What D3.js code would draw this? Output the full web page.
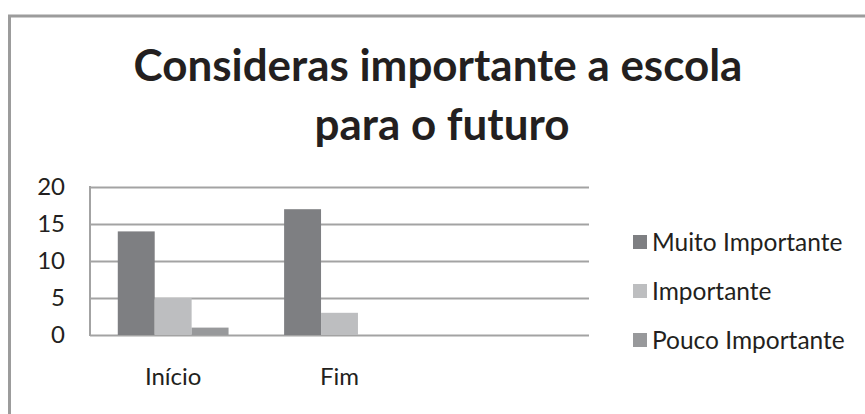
<!DOCTYPE html>
<html>
<head>
<meta charset="utf-8">
<script src="https://cdn.jsdelivr.net/npm/d3@7"></script>
<style>
  body { margin: 0; background: #fff; }
  svg { display: block; font-family: Lato, "Open Sans", sans-serif; }
</style>
</head>
<body>
<div id="chart"></div>
<script>
// Chart data
const titleLines = ["Consideras importante a escola", "para o futuro"];
const categories = ["Início", "Fim", ""];   // third slot is empty in the original
const seriesNames = ["Muito Importante", "Importante", "Pouco Importante"];
const muitoImportante = [14, 17];
const importante = [5, 3];
const poucoImportante = [1, 0];
const yTicks = [0, 5, 10, 15, 20];

const seriesValues = [muitoImportante, importante, poucoImportante];
const colors = ["#7e7f82", "#bdbec0", "#98999b"];

const width = 865, height = 414;
const plot = {left: 90, right: 589, top: 187, bottom: 335};
const labelSize = 24;

const svg = d3.select("#chart").append("svg")
    .attr("width", width)
    .attr("height", height);

svg.append("rect").attr("width", width).attr("height", height).attr("fill", "#fff");

// outer frame (only top and left edges are visible in the picture)
svg.append("path")
    .attr("d", "M9.5," + height + "V16H" + width)
    .attr("fill", "none")
    .attr("stroke", "#9c9c9c")
    .attr("stroke-width", 3);

// title, sized to the width it has in the reference
const title = svg.append("g").attr("fill", "#231f20").attr("font-weight", "bold");
const t1 = title.append("text").attr("x", 438).attr("y", 81)
    .attr("text-anchor", "middle").attr("font-size", 40).text(titleLines[0]);
let fs = 40 * 609 / t1.node().getComputedTextLength();
t1.attr("font-size", fs);
title.append("text").attr("x", 442).attr("y", 140)
    .attr("text-anchor", "middle").attr("font-size", fs).text(titleLines[1]);

// scales
const x = d3.scaleBand()
    .domain(categories)
    .range([plot.left, plot.right])
    .paddingInner(0.334)
    .paddingOuter(0.167);

const xs = d3.scaleBand()
    .domain(seriesNames)
    .range([0, x.bandwidth()]);

const y = d3.scaleLinear()
    .domain([0, 20])
    .range([plot.bottom, plot.top]);

// gridlines + y labels
const yAxis = d3.axisLeft(y)
    .tickValues(yTicks)
    .tickSize(-(plot.right - plot.left))
    .tickPadding(25);

const gy = svg.append("g")
    .attr("transform", "translate(" + plot.left + ",0)")
    .call(yAxis);
gy.select(".domain").remove();
gy.selectAll(".tick line").attr("stroke", "#a3a3a3").attr("stroke-width", 2);
gy.selectAll(".tick text")
    .attr("font-size", labelSize)
    .attr("fill", "#231f20")
    .attr("font-family", "Lato, sans-serif");

// vertical axis line
svg.append("line")
    .attr("x1", plot.left).attr("x2", plot.left)
    .attr("y1", plot.top - 1).attr("y2", plot.bottom + 1)
    .attr("stroke", "#a3a3a3").attr("stroke-width", 2);

// bars
seriesNames.forEach((name, si) => {
    svg.append("g").selectAll("rect")
        .data(seriesValues[si])
        .enter().append("rect")
        .attr("x", (d, i) => x(categories[i]) + xs(name))
        .attr("y", d => y(d))
        .attr("width", xs.bandwidth())
        .attr("height", d => y(0) - y(d))
        .attr("fill", colors[si]);
});

// category labels
const xAxis = d3.axisBottom(x).tickSize(0).tickPadding(33);
const gx = svg.append("g")
    .attr("transform", "translate(0," + plot.bottom + ")")
    .call(xAxis);
gx.select(".domain").remove();
gx.selectAll(".tick text")
    .attr("font-size", labelSize)
    .attr("fill", "#231f20")
    .attr("font-family", "Lato, sans-serif");

// legend
const legendY = [242, 291, 340];
const legend = svg.append("g");
seriesNames.forEach((name, i) => {
    legend.append("rect")
        .attr("x", 633).attr("y", legendY[i] - 7)
        .attr("width", 14).attr("height", 14)
        .attr("fill", colors[i]);
    legend.append("text")
        .attr("x", 652).attr("y", legendY[i])
        .attr("dy", "0.35em")
        .attr("font-size", 24.5)
        .attr("fill", "#231f20")
        .text(name);
});
</script>
</body>
</html>
